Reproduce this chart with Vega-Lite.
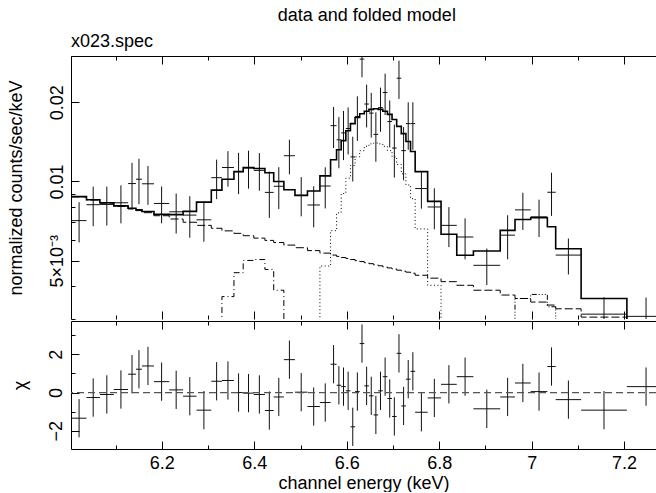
{
  "$schema": "https://vega.github.io/schema/vega-lite/v6.json",
  "padding": {"left": 7, "top": 6, "right": 0, "bottom": 0},
  "title": {"text": "data and folded model", "anchor": "middle", "fontSize": 18, "font": "Liberation Sans", "fontWeight": "normal", "color": "black", "offset": 8, "dx": 35},
  "datasets": {
    "bins": [
      {"e":6.021,"lo":6.005,"hi":6.037,"y":0.0071,"ylo":0.00586,"yhi":0.00834,"chi":-1.34,"cl":-2.34,"ch":-0.34},
      {"e":6.0515,"lo":6.037,"hi":6.066,"y":0.00816,"ylo":0.00676,"yhi":0.00956,"chi":-0.26,"cl":-1.26,"ch":0.74},
      {"e":6.081,"lo":6.066,"hi":6.096,"y":0.00818,"ylo":0.0068,"yhi":0.00956,"chi":-0.1,"cl":-1.1,"ch":0.9},
      {"e":6.1115,"lo":6.096,"hi":6.127,"y":0.0083,"ylo":0.00693,"yhi":0.00967,"chi":0.16,"cl":-0.84,"ch":1.16},
      {"e":6.1355,"lo":6.127,"hi":6.144,"y":0.00982,"ylo":0.00787,"yhi":0.01177,"chi":0.96,"cl":-0.04,"ch":1.96},
      {"e":6.1505,"lo":6.144,"hi":6.157,"y":0.0102,"ylo":0.0082,"yhi":0.0122,"chi":1.22,"cl":0.22,"ch":2.22},
      {"e":6.17,"lo":6.157,"hi":6.183,"y":0.0098,"ylo":0.00815,"yhi":0.01145,"chi":1.39,"cl":0.39,"ch":2.39},
      {"e":6.1995,"lo":6.183,"hi":6.216,"y":0.00825,"ylo":0.00693,"yhi":0.00957,"chi":0.57,"cl":-0.43,"ch":1.57},
      {"e":6.231,"lo":6.216,"hi":6.246,"y":0.00767,"ylo":0.00634,"yhi":0.009,"chi":0.14,"cl":-0.86,"ch":1.14},
      {"e":6.2605,"lo":6.246,"hi":6.275,"y":0.00745,"ylo":0.00611,"yhi":0.00879,"chi":-0.19,"cl":-1.19,"ch":0.81},
      {"e":6.291,"lo":6.275,"hi":6.307,"y":0.00715,"ylo":0.0059,"yhi":0.0084,"chi":-0.92,"cl":-1.92,"ch":0.08},
      {"e":6.3185,"lo":6.307,"hi":6.33,"y":0.01034,"ylo":0.00857,"yhi":0.01211,"chi":0.59,"cl":-0.41,"ch":1.59},
      {"e":6.343,"lo":6.33,"hi":6.356,"y":0.0113,"ylo":0.00956,"yhi":0.01304,"chi":0.63,"cl":-0.37,"ch":1.63},
      {"e":6.366,"lo":6.356,"hi":6.376,"y":0.0109,"ylo":0.00895,"yhi":0.01285,"chi":0,"cl":-1,"ch":1},
      {"e":6.3875,"lo":6.376,"hi":6.399,"y":0.01124,"ylo":0.00939,"yhi":0.01309,"chi":-0.03,"cl":-1.03,"ch":0.97},
      {"e":6.411,"lo":6.399,"hi":6.423,"y":0.01102,"ylo":0.00922,"yhi":0.01282,"chi":-0.1,"cl":-1.1,"ch":0.9},
      {"e":6.4325,"lo":6.423,"hi":6.442,"y":0.00909,"ylo":0.00727,"yhi":0.01091,"chi":-0.94,"cl":-1.94,"ch":0.06},
      {"e":6.453,"lo":6.442,"hi":6.464,"y":0.00959,"ylo":0.00785,"yhi":0.01133,"chi":-0.23,"cl":-1.23,"ch":0.77},
      {"e":6.476,"lo":6.464,"hi":6.488,"y":0.01253,"ylo":0.01065,"yhi":0.01441,"chi":1.72,"cl":0.72,"ch":2.72},
      {"e":6.5015,"lo":6.488,"hi":6.515,"y":0.00888,"ylo":0.00737,"yhi":0.01039,"chi":0.02,"cl":-0.98,"ch":1.02},
      {"e":6.5285,"lo":6.515,"hi":6.542,"y":0.00814,"ylo":0.00669,"yhi":0.00959,"chi":-0.73,"cl":-1.73,"ch":0.27},
      {"e":6.5535,"lo":6.542,"hi":6.565,"y":0.00961,"ylo":0.0079,"yhi":0.01132,"chi":-0.52,"cl":-1.52,"ch":0.48},
      {"e":6.5715,"lo":6.565,"hi":6.578,"y":0.0163,"ylo":0.0134,"yhi":0.0192,"chi":1.48,"cl":0.48,"ch":2.48},
      {"e":6.583,"lo":6.578,"hi":6.588,"y":0.0144,"ylo":0.01123,"yhi":0.01757,"chi":0.38,"cl":-0.62,"ch":1.38},
      {"e":6.593,"lo":6.588,"hi":6.598,"y":0.0153,"ylo":0.01206,"yhi":0.01854,"chi":0.31,"cl":-0.69,"ch":1.31},
      {"e":6.603,"lo":6.598,"hi":6.608,"y":0.0159,"ylo":0.01267,"yhi":0.01913,"chi":0.09,"cl":-0.91,"ch":1.09},
      {"e":6.613,"lo":6.608,"hi":6.618,"y":0.0124,"ylo":0.01,"yhi":0.0148,"chi":-1.79,"cl":-2.79,"ch":-0.79},
      {"e":6.623,"lo":6.618,"hi":6.628,"y":0.01767,"ylo":0.01427,"yhi":0.02107,"chi":0.05,"cl":-0.95,"ch":1.05},
      {"e":6.633,"lo":6.628,"hi":6.638,"y":0.0292,"ylo":0.0249,"yhi":0.0335,"chi":2.56,"cl":1.56,"ch":3.56},
      {"e":6.643,"lo":6.638,"hi":6.648,"y":0.0197,"ylo":0.01605,"yhi":0.02335,"chi":0.35,"cl":-0.65,"ch":1.35},
      {"e":6.653,"lo":6.648,"hi":6.658,"y":0.0182,"ylo":0.01468,"yhi":0.02172,"chi":-0.17,"cl":-1.17,"ch":0.83},
      {"e":6.663,"lo":6.658,"hi":6.668,"y":0.0151,"ylo":0.01188,"yhi":0.01832,"chi":-1.17,"cl":-2.17,"ch":-0.17},
      {"e":6.673,"lo":6.668,"hi":6.678,"y":0.0191,"ylo":0.01545,"yhi":0.02275,"chi":0.09,"cl":-0.91,"ch":1.09},
      {"e":6.683,"lo":6.678,"hi":6.688,"y":0.0218,"ylo":0.0179,"yhi":0.0257,"chi":0.83,"cl":-0.17,"ch":1.83},
      {"e":6.693,"lo":6.688,"hi":6.698,"y":0.0169,"ylo":0.01347,"yhi":0.02033,"chi":-0.31,"cl":-1.31,"ch":0.69},
      {"e":6.703,"lo":6.698,"hi":6.708,"y":0.0134,"ylo":0.01035,"yhi":0.01645,"chi":-1.25,"cl":-2.25,"ch":-0.25},
      {"e":6.713,"lo":6.708,"hi":6.718,"y":0.0247,"ylo":0.0206,"yhi":0.0288,"chi":2.05,"cl":1.05,"ch":3.05},
      {"e":6.723,"lo":6.718,"hi":6.728,"y":0.0131,"ylo":0.0101,"yhi":0.0161,"chi":-0.7,"cl":-1.7,"ch":0.3},
      {"e":6.733,"lo":6.728,"hi":6.738,"y":0.0166,"ylo":0.0132,"yhi":0.02,"chi":0.7,"cl":-0.3,"ch":1.7},
      {"e":6.743,"lo":6.738,"hi":6.748,"y":0.0166,"ylo":0.0132,"yhi":0.02,"chi":1.11,"cl":0.11,"ch":2.11},
      {"e":6.7615,"lo":6.748,"hi":6.775,"y":0.0094,"ylo":0.00788,"yhi":0.01092,"chi":-1.03,"cl":-2.03,"ch":-0.03},
      {"e":6.7895,"lo":6.775,"hi":6.804,"y":0.008,"ylo":0.00658,"yhi":0.00942,"chi":-0.28,"cl":-1.28,"ch":0.72},
      {"e":6.821,"lo":6.804,"hi":6.838,"y":0.00681,"ylo":0.00563,"yhi":0.00799,"chi":0.43,"cl":-0.57,"ch":1.43},
      {"e":6.856,"lo":6.838,"hi":6.874,"y":0.00615,"ylo":0.00506,"yhi":0.00724,"chi":0.83,"cl":-0.17,"ch":1.83},
      {"e":6.903,"lo":6.874,"hi":6.932,"y":0.0048,"ylo":0.00404,"yhi":0.00556,"chi":-0.85,"cl":-1.85,"ch":0.15},
      {"e":6.948,"lo":6.932,"hi":6.964,"y":0.00625,"ylo":0.00506,"yhi":0.00744,"chi":-0.23,"cl":-1.23,"ch":0.77},
      {"e":6.981,"lo":6.964,"hi":6.998,"y":0.0078,"ylo":0.00654,"yhi":0.00906,"chi":0.5,"cl":-0.5,"ch":1.5},
      {"e":7.016,"lo":6.998,"hi":7.034,"y":0.00734,"ylo":0.00615,"yhi":0.00853,"chi":0.05,"cl":-0.95,"ch":1.05},
      {"e":7.043,"lo":7.034,"hi":7.052,"y":0.0091,"ylo":0.0074,"yhi":0.0108,"chi":1.36,"cl":0.36,"ch":2.36},
      {"e":7.0795,"lo":7.052,"hi":7.107,"y":0.00525,"ylo":0.00443,"yhi":0.00607,"chi":-0.37,"cl":-1.37,"ch":0.63},
      {"e":7.1565,"lo":7.107,"hi":7.206,"y":0.00313,"ylo":0.00263,"yhi":0.00363,"chi":-0.92,"cl":-1.92,"ch":0.08},
      {"e":7.2475,"lo":7.206,"hi":7.289,"y":0.00307,"ylo":0.00252,"yhi":0.00362,"chi":0.31,"cl":-0.69,"ch":1.31}
    ],
    "model": [
      {"lo":6.005,"tot":0.00876,"cont":0.00874},
      {"lo":6.037,"tot":0.00852,"cont":0.0085},
      {"lo":6.066,"tot":0.0083,"cont":0.00827},
      {"lo":6.096,"tot":0.00808,"cont":0.00804},
      {"lo":6.127,"tot":0.00791,"cont":0.00786},
      {"lo":6.144,"tot":0.00781,"cont":0.00775},
      {"lo":6.157,"tot":0.00769,"cont":0.00761},
      {"lo":6.183,"tot":0.0075,"cont":0.00741},
      {"lo":6.216,"tot":0.00748,"cont":0.0072},
      {"lo":6.246,"tot":0.0077,"cont":0.007},
      {"lo":6.275,"tot":0.00835,"cont":0.00681},
      {"lo":6.307,"tot":0.00927,"cont":0.00664,"g64":0.0022},
      {"lo":6.33,"tot":0.0102,"cont":0.00649,"g64":0.00365},
      {"lo":6.356,"tot":0.0109,"cont":0.00635,"g64":0.0045},
      {"lo":6.376,"tot":0.0113,"cont":0.00622,"g64":0.00501},
      {"lo":6.399,"tot":0.0112,"cont":0.00609,"g64":0.00505},
      {"lo":6.423,"tot":0.0108,"cont":0.00597,"g64":0.00463},
      {"lo":6.442,"tot":0.01,"cont":0.00586,"g64":0.00386},
      {"lo":6.464,"tot":0.0093,"cont":0.00573,"g64":0.0025},
      {"lo":6.488,"tot":0.00885,"cont":0.0056},
      {"lo":6.515,"tot":0.0092,"cont":0.00546,"g67":0.0025},
      {"lo":6.542,"tot":0.0105,"cont":0.00534,"g67":0.00477},
      {"lo":6.565,"tot":0.0121,"cont":0.00525,"g67":0.0065},
      {"lo":6.578,"tot":0.0132,"cont":0.00519,"g67":0.0076},
      {"lo":6.588,"tot":0.0143,"cont":0.00514,"g67":0.009},
      {"lo":6.598,"tot":0.0156,"cont":0.0051,"g67":0.0103},
      {"lo":6.608,"tot":0.0166,"cont":0.00505,"g67":0.0115},
      {"lo":6.618,"tot":0.0175,"cont":0.005,"g67":0.0124},
      {"lo":6.628,"tot":0.0181,"cont":0.00496,"g67":0.0131},
      {"lo":6.638,"tot":0.0185,"cont":0.00491,"g67":0.0136},
      {"lo":6.648,"tot":0.0188,"cont":0.00487,"g67":0.0139},
      {"lo":6.658,"tot":0.0189,"cont":0.00482,"g67":0.014},
      {"lo":6.668,"tot":0.0188,"cont":0.00478,"g67":0.0139},
      {"lo":6.678,"tot":0.0185,"cont":0.00473,"g67":0.0136},
      {"lo":6.688,"tot":0.018,"cont":0.00469,"g67":0.0131},
      {"lo":6.698,"tot":0.0172,"cont":0.00465,"g67":0.0124},
      {"lo":6.708,"tot":0.0162,"cont":0.0046,"g67":0.0116},
      {"lo":6.718,"tot":0.0152,"cont":0.00456,"g67":0.0107},
      {"lo":6.728,"tot":0.0142,"cont":0.00452,"g67":0.0097},
      {"lo":6.738,"tot":0.013,"cont":0.00448,"g67":0.0086},
      {"lo":6.748,"tot":0.0109,"cont":0.0044,"g67":0.0066},
      {"lo":6.775,"tot":0.0084,"cont":0.00429,"g67":0.00403},
      {"lo":6.804,"tot":0.0063,"cont":0.00416,"g67":0.0021},
      {"lo":6.838,"tot":0.00524,"cont":0.00403},
      {"lo":6.874,"tot":0.00544,"cont":0.00386},
      {"lo":6.932,"tot":0.00652,"cont":0.0037,"g70":0.0028},
      {"lo":6.964,"tot":0.00717,"cont":0.00359,"g70":0.00359},
      {"lo":6.998,"tot":0.00728,"cont":0.00348,"g70":0.00372},
      {"lo":7.034,"tot":0.00673,"cont":0.00339,"g70":0.00334},
      {"lo":7.052,"tot":0.00555,"cont":0.00328,"g70":0.0023},
      {"lo":7.107,"tot":0.00359,"cont":0.00305},
      {"lo":7.206,"tot":0.0029,"cont":0.0028},
      {"lo":7.289,"tot":0.0029,"cont":0.0028}
    ]
  },
  "spacing": 0,
  "vconcat": [
    {
      "width": 585,
      "height": 263,
      "title": {"text": "x023.spec", "anchor": "start", "frame": "group", "offset": 5, "fontSize": 18, "font": "Liberation Sans", "fontWeight": "normal", "color": "black"},
      "layer": [
        {
          "data": {"name": "bins"},
          "mark": {"type": "rule", "clip": true, "color": "#111", "strokeWidth": 1},
          "encoding": {
            "x": {"field": "lo", "type": "quantitative", "scale": {"domain": [6.0035, 7.269], "nice": false, "zero": false},
              "axis": {"orient": "bottom", "title": null, "labels": false, "domain": false, "values": [6.1,6.2,6.3,6.4,6.5,6.6,6.7,6.8,6.9,7,7.1,7.2],
                "tickSize": {"condition": {"test": "abs(datum.value*5 - round(datum.value*5)) < 0.01", "value": -8}, "value": -4}}},
            "x2": {"field": "hi"},
            "y": {"field": "y", "type": "quantitative", "scale": {"type": "log", "domain": [0.003, 0.03], "nice": false},
              "axis": {"orient": "left", "title": "normalized counts/sec/keV", "titlePadding": 19,
                "values": [0.003,0.004,0.005,0.006,0.007,0.008,0.009,0.01,0.02,0.03],
                "labelExpr": "datum.value == 0.01 ? '0.01' : datum.value == 0.02 ? '0.02' : datum.value == 0.005 ? '5×10⁻³' : ''",
                "labelAngle": -90, "labelAlign": "center", "labelBaseline": "bottom", "labelPadding": 13,
                "tickSize": {"condition": {"test": "datum.value == 0.01 || datum.value == 0.02 || datum.value == 0.005", "value": -8}, "value": -4}}}
          }
        },
        {
          "data": {"name": "bins"},
          "mark": {"type": "rule", "clip": true, "color": "#111", "strokeWidth": 1},
          "encoding": {
            "x": {"field": "e", "type": "quantitative", "scale": {"domain": [6.0035, 7.269], "nice": false, "zero": false},
              "axis": {"orient": "top", "title": null, "labels": false, "values": [6.1,6.2,6.3,6.4,6.5,6.6,6.7,6.8,6.9,7,7.1,7.2],
                "tickSize": {"condition": {"test": "abs(datum.value*5 - round(datum.value*5)) < 0.01", "value": -8}, "value": -4}}},
            "y": {"field": "ylo", "type": "quantitative", "scale": {"type": "log", "domain": [0.003, 0.03], "nice": false}, "axis": null},
            "y2": {"field": "yhi"}
          }
        },
        {
          "data": {"name": "model"},
          "mark": {"type": "line", "interpolate": "step-after", "clip": true, "color": "black", "strokeWidth": 1.6},
          "encoding": {
            "x": {"field": "lo", "type": "quantitative", "axis": null},
            "y": {"field": "tot", "type": "quantitative", "axis": null}
          }
        },
        {
          "data": {"name": "model"},
          "mark": {"type": "line", "interpolate": "step-after", "clip": true, "color": "black", "strokeWidth": 1, "strokeDash": [8, 3]},
          "encoding": {
            "x": {"field": "lo", "type": "quantitative", "axis": null},
            "y": {"field": "cont", "type": "quantitative", "axis": null}
          }
        },
        {
          "data": {"name": "model"},
          "transform": [{"filter": "isValid(datum.g64)"}],
          "mark": {"type": "line", "interpolate": "step-after", "clip": true, "color": "black", "strokeWidth": 1, "strokeDash": [6, 3, 1, 3]},
          "encoding": {
            "x": {"field": "lo", "type": "quantitative", "axis": null},
            "y": {"field": "g64", "type": "quantitative", "axis": null}
          }
        },
        {
          "data": {"name": "model"},
          "transform": [{"filter": "isValid(datum.g67)"}],
          "mark": {"type": "line", "interpolate": "step-after", "clip": true, "color": "black", "strokeWidth": 1, "strokeDash": [1, 2.5]},
          "encoding": {
            "x": {"field": "lo", "type": "quantitative", "axis": null},
            "y": {"field": "g67", "type": "quantitative", "axis": null}
          }
        },
        {
          "data": {"name": "model"},
          "transform": [{"filter": "isValid(datum.g70)"}],
          "mark": {"type": "line", "interpolate": "step-after", "clip": true, "color": "black", "strokeWidth": 1, "strokeDash": [5, 2, 1, 2, 1, 2, 1, 2]},
          "encoding": {
            "x": {"field": "lo", "type": "quantitative", "axis": null},
            "y": {"field": "g70", "type": "quantitative", "axis": null}
          }
        }
      ],
      "resolve": {"axis": {"x": "independent", "y": "independent"}}
    },
    {
      "width": 585,
      "height": 128,
      "layer": [
        {
          "data": {"name": "bins"},
          "mark": {"type": "rule", "clip": true, "color": "#111", "strokeWidth": 1},
          "encoding": {
            "x": {"field": "lo", "type": "quantitative", "scale": {"domain": [6.0035, 7.269], "nice": false, "zero": false},
              "axis": {"orient": "bottom", "title": "channel energy (keV)", "titlePadding": -2, "values": [6.1,6.2,6.3,6.4,6.5,6.6,6.7,6.8,6.9,7,7.1,7.2],
                "labelExpr": "abs(datum.value*5 - round(datum.value*5)) < 0.01 ? format(datum.value, '~g') : ''",
                "labelPadding": 13,
                "tickSize": {"condition": {"test": "abs(datum.value*5 - round(datum.value*5)) < 0.01", "value": -8}, "value": -4}}},
            "x2": {"field": "hi"},
            "y": {"field": "chi", "type": "quantitative", "scale": {"domain": [-2.95, 3.74], "nice": false, "zero": false},
              "axis": {"orient": "left", "title": "χ", "titlePadding": 14, "values": [-2, -1, 0, 1, 2, 3],
                "labelExpr": "datum.value % 2 == 0 ? datum.label : ''",
                "labelAngle": -90, "labelAlign": "center", "labelBaseline": "bottom", "labelPadding": 14,
                "tickSize": {"condition": {"test": "datum.value % 2 == 0", "value": -8}, "value": -4}}}
          }
        },
        {
          "data": {"name": "bins"},
          "mark": {"type": "rule", "clip": true, "color": "#111", "strokeWidth": 1},
          "encoding": {
            "x": {"field": "e", "type": "quantitative", "scale": {"domain": [6.0035, 7.269], "nice": false, "zero": false},
              "axis": {"orient": "top", "title": null, "labels": false, "values": [6.1,6.2,6.3,6.4,6.5,6.6,6.7,6.8,6.9,7,7.1,7.2],
                "tickSize": {"condition": {"test": "abs(datum.value*5 - round(datum.value*5)) < 0.01", "value": -8}, "value": -4}}},
            "y": {"field": "cl", "type": "quantitative", "scale": {"domain": [-2.95, 3.74], "nice": false, "zero": false}, "axis": null},
            "y2": {"field": "ch"}
          }
        },
        {
          "data": {"values": [{}]},
          "mark": {"type": "rule", "color": "#555", "strokeWidth": 1.2, "strokeDash": [7, 4]},
          "encoding": {
            "y": {"datum": 0, "type": "quantitative", "axis": null}
          }
        }
      ],
      "resolve": {"axis": {"x": "independent", "y": "independent"}}
    }
  ],
  "config": {
    "font": "Liberation Sans",
    "view": {"stroke": null},
    "axis": {
      "grid": false,
      "domainColor": "black",
      "domainWidth": 1,
      "tickColor": "black",
      "tickWidth": 1,
      "labelColor": "black",
      "titleColor": "black",
      "labelFont": "Liberation Sans",
      "titleFont": "Liberation Sans",
      "labelFontSize": 18,
      "titleFontSize": 18,
      "titleFontWeight": "normal",
      "labelOverlap": false,
      "labelFlush": false
    }
  }
}
